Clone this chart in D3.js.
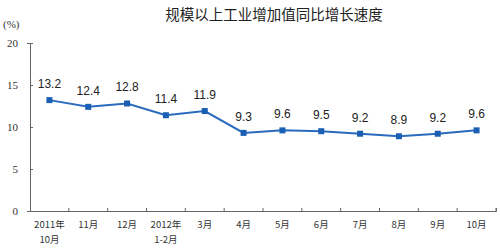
<!DOCTYPE html>
<html>
<head>
<meta charset="utf-8">
<script src="https://cdn.jsdelivr.net/npm/d3@7"></script>
<style>
  body { margin: 0; background: #fff; }
  svg { display: block; }
</style>
</head>
<body>
<div id="chart"></div>
<script>
// data
var categories = ["2011年|10月", "11月", "12月", "2012年|1-2月", "3月", "4月",
                  "5月", "6月", "7月", "8月", "9月", "10月"];
var growth = [13.2, 12.4, 12.8, 11.4, 11.9, 9.3, 9.6, 9.5, 9.2, 8.9, 9.2, 9.6];
var yTicks = [0, 5, 10, 15, 20];

var W = 500, H = 248;
var margin = {top: 43, right: 4, bottom: 37, left: 30};

var svg = d3.select("#chart").append("svg")
    .attr("width", W)
    .attr("height", H);

var x = d3.scaleBand()
    .domain(categories)
    .range([margin.left, W - margin.right]);

var y = d3.scaleLinear()
    .domain([0, 20])
    .range([H - margin.bottom, margin.top]);

// title
svg.append("text")
    .attr("x", 274)
    .attr("y", 20)
    .attr("text-anchor", "middle")
    .style("font-family", "'Noto Sans CJK SC', sans-serif")
    .style("font-size", "14.5px")
    .style("fill", "#222")
    .text("规模以上工业增加值同比增长速度");

// unit
svg.append("text")
    .attr("x", 3)
    .attr("y", 28)
    .style("font-family", "'Liberation Serif', serif")
    .style("font-size", "11px")
    .style("fill", "#333")
    .text("(%)");

// y axis
var yAxis = d3.axisLeft(y)
    .tickValues(yTicks)
    .tickSize(3)
    .tickPadding(9);

var gy = svg.append("g")
    .attr("transform", "translate(" + margin.left + ",0)")
    .call(yAxis);
gy.select(".domain").attr("stroke", "#666");
gy.selectAll(".tick line").attr("stroke", "#666").attr("x2", 3).attr("x1", 0);
gy.selectAll(".tick text")
    .style("font-family", "'Liberation Serif', serif")
    .style("font-size", "11px")
    .style("fill", "#333");

// x axis
var xAxis = d3.axisBottom(x)
    .tickSize(-3)
    .tickFormat("");

var gx = svg.append("g")
    .attr("transform", "translate(0," + (H - margin.bottom) + ")")
    .call(xAxis);
gx.select(".domain").attr("stroke", "#666");
gx.selectAll(".tick").remove();

// tick marks at band boundaries
gx.selectAll(".sep")
    .data(categories)
  .enter().append("line")
    .attr("class", "sep")
    .attr("x1", function(d) { return x(d) + x.bandwidth(); })
    .attr("x2", function(d) { return x(d) + x.bandwidth(); })
    .attr("y1", 0)
    .attr("y2", -3)
    .attr("stroke", "#666");

// category labels, some on two lines
var lbl = svg.append("g").selectAll("text")
    .data(categories)
  .enter().append("text")
    .attr("x", function(d) { return x(d) + x.bandwidth() / 2; })
    .attr("y", H - margin.bottom + 17)
    .attr("text-anchor", "middle")
    .style("font-family", "'Noto Sans CJK SC', sans-serif")
    .style("font-size", "9.5px")
    .style("fill", "#333");

lbl.each(function(d) {
  var parts = d.split("|");
  var t = d3.select(this);
  parts.forEach(function(p, i) {
    t.append("tspan")
        .attr("x", t.attr("x"))
        .attr("dy", i == 0 ? 0 : 15)
        .text(p);
  });
});

// line
var pts = categories.map(function(c, i) { return {cat: c, value: growth[i]}; });

var line = d3.line()
    .x(function(d) { return x(d.cat) + x.bandwidth() / 2; })
    .y(function(d) { return y(d.value); });

svg.append("path")
    .datum(pts)
    .attr("fill", "none")
    .attr("stroke", "#2a6bbd")
    .attr("stroke-width", 2)
    .attr("d", line);

// markers
svg.selectAll(".mk")
    .data(pts)
  .enter().append("rect")
    .attr("class", "mk")
    .attr("x", function(d) { return x(d.cat) + x.bandwidth() / 2 - 3; })
    .attr("y", function(d) { return y(d.value) - 3; })
    .attr("width", 6)
    .attr("height", 6)
    .attr("fill", "#1a5fb4");

// value labels
svg.selectAll(".val")
    .data(pts)
  .enter().append("text")
    .attr("class", "val")
    .attr("x", function(d) { return x(d.cat) + x.bandwidth() / 2; })
    .attr("y", function(d) { return y(d.value) - 12; })
    .attr("text-anchor", "middle")
    .style("font-family", "'Liberation Sans', Arial, sans-serif")
    .style("font-size", "12px")
    .style("fill", "#222")
    .text(function(d) { return d3.format(".1f")(d.value); });
</script>
</body>
</html>
